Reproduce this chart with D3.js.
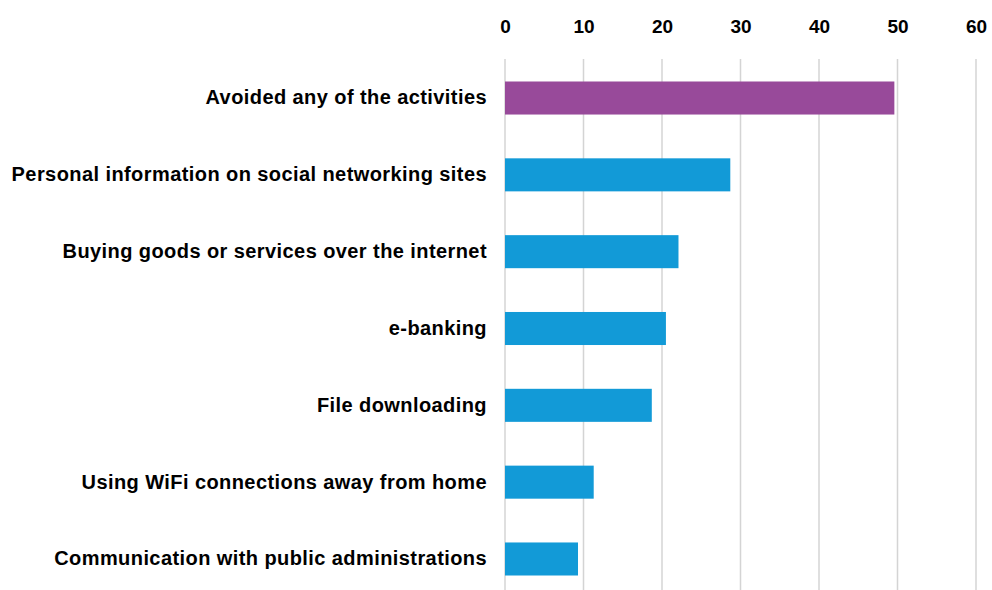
<!DOCTYPE html>
<html>
<head>
<meta charset="utf-8">
<script src="https://cdn.jsdelivr.net/npm/d3@7"></script>
<style>
  html, body { margin: 0; padding: 0; background: #fff; }
  svg { display: block; font-family: "Liberation Sans", Arial, sans-serif; }
</style>
</head>
<body>
<svg id="chart" width="992" height="590"></svg>
<script>
// Share of individuals avoiding online activities because of security concerns (%)
const categories = [
  "Avoided any of the activities",
  "Personal information on social networking sites",
  "Buying goods or services over the internet",
  "e-banking",
  "File downloading",
  "Using WiFi connections away from home",
  "Communication with public administrations"
];
const values = [49.6, 28.7, 22.1, 20.5, 18.7, 11.3, 9.3];
const tickValues = [0, 10, 20, 30, 40, 50, 60];

const svg = d3.select("#chart");
const margin = { left: 505, top: 59.6 };

const x = d3.scaleLinear().domain([0, 60]).range([margin.left, 976]);
const y = d3.scaleBand().domain(categories).range([margin.top, 597.4]).paddingInner(0.57).paddingOuter(0.285);

// vertical gridlines
svg.append("g")
  .selectAll("line")
  .data(tickValues)
  .join("line")
  .attr("x1", d => x(d)).attr("x2", d => x(d))
  .attr("y1", 59).attr("y2", 590)
  .attr("stroke", "#d4d4d4")
  .attr("stroke-width", 1.5);

// top axis labels
const axis = d3.axisTop(x).tickValues(tickValues).tickSize(0).tickPadding(0);
const gAxis = svg.append("g")
  .attr("transform", "translate(0,33)")
  .call(axis)
  .attr("font-size", 19)
  .attr("font-family", "'Liberation Sans', Arial, sans-serif");
gAxis.select(".domain").remove();
gAxis.selectAll("text")
  .attr("dy", 0)
  .attr("font-weight", "bold")
  .attr("fill", "#000");

// bars
svg.append("g")
  .selectAll("rect")
  .data(values)
  .join("rect")
  .attr("x", x(0))
  .attr("y", (d, i) => y(categories[i]))
  .attr("width", d => x(d) - x(0))
  .attr("height", y.bandwidth())
  .attr("fill", (d, i) => i === 0 ? "#984a9a" : "#129ad7");

// category labels
const yAxis = d3.axisLeft(y).tickSize(0).tickPadding(18);
const gY = svg.append("g")
  .attr("transform", `translate(${x(0)},0)`)
  .call(yAxis)
  .attr("font-size", 20)
  .attr("font-family", "'Liberation Sans', Arial, sans-serif");
gY.select(".domain").remove();
gY.selectAll("text")
  .attr("font-weight", "bold")
  .attr("fill", "#000")
  .attr("letter-spacing", "0.42px");
</script>
</body>
</html>
